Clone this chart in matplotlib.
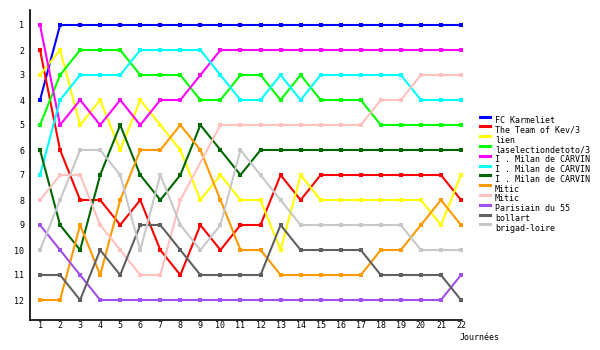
import matplotlib
matplotlib.use("Agg")
import matplotlib.pyplot as plt
from matplotlib.lines import Line2D

days = list(range(1, 23))
teams = ["FC Karmeliet", "The Team of Kev/3", "lien", "laselectiondetoto/3",
         "I . Milan de CARVIN", "I . Milan de CARVIN", "I . Milan de CARVIN",
         "Mitic", "Mitic", "Parisiain du 55", "bollart", "brigad-loire"]
colors = ["#0000ff", "#ff0000", "#ffff00", "#00ff00", "#ff00ff", "#00ffff",
          "#006600", "#ff9900", "#ffc0c0", "#a050f0", "#606060", "#c8c8c8"]

karmeliet = [4, 1, 1, 1, 1, 1, 1, 1, 1, 1, 1, 1, 1, 1, 1, 1, 1, 1, 1, 1, 1, 1]
kev = [2, 6, 8, 8, 9, 8, 10, 11, 9, 10, 9, 9, 7, 8, 7, 7, 7, 7, 7, 7, 7, 8]
lien = [3, 2, 5, 4, 6, 4, 5, 6, 8, 7, 8, 8, 10, 7, 8, 8, 8, 8, 8, 8, 9, 7]
toto = [5, 3, 2, 2, 2, 3, 3, 3, 4, 4, 3, 3, 4, 3, 4, 4, 4, 5, 5, 5, 5, 5]
milan1 = [1, 5, 4, 5, 4, 5, 4, 4, 3, 2, 2, 2, 2, 2, 2, 2, 2, 2, 2, 2, 2, 2]
milan2 = [7, 4, 3, 3, 3, 2, 2, 2, 2, 3, 4, 4, 3, 4, 3, 3, 3, 3, 3, 4, 4, 4]
milan3 = [6, 9, 10, 7, 5, 7, 8, 7, 5, 6, 7, 6, 6, 6, 6, 6, 6, 6, 6, 6, 6, 6]
mitic1 = [12, 12, 9, 11, 8, 6, 6, 5, 6, 8, 10, 10, 11, 11, 11, 11, 11, 10, 10, 9, 8, 9]
mitic2 = [8, 7, 7, 9, 10, 11, 11, 8, None, 5, 5, 5, 5, 5, 5, 5, 5, 4, 4, 3, 3, 3]
parisiain = [9, 10, 11, 12, 12, 12, 12, 12, 12, 12, 12, 12, 12, 12, 12, 12, 12, 12, 12, 12, 12, 11]
bollart = [11, 11, 12, 10, 11, 9, 9, 10, 11, 11, 11, 11, 9, 10, 10, 10, 10, 11, 11, 11, 11, 12]
brigad = [10, 8, 6, 6, 7, 10, 7, 9, 10, 9, 6, 7, 8, 9, 9, 9, 9, 9, 9, 10, 10, 10]

series = [karmeliet, kev, lien, toto, milan1, milan2, milan3,
          mitic1, mitic2, parisiain, bollart, brigad]
ranks = list(range(1, 13))

FONT = "DejaVu Sans Mono"
FS = 6

fig = plt.figure(figsize=(6, 3.5), dpi=100)
ax = fig.add_axes([30 / 600, 1 - 320 / 350, 432 / 600, 310 / 350])

for vals, col in zip(series, colors):
    xs = [d for d, v in zip(days, vals) if v is not None]
    ys = [v for v in vals if v is not None]
    ax.plot(xs, ys, color=col, lw=1.5, marker="s", ms=2.8, mew=0,
            solid_joinstyle="miter")

ax.set_xlim(0.5, 22.05)
ax.set_ylim(12.8, 0.4)
ax.set_xticks(days)
ax.set_xticklabels([str(d) for d in days], fontfamily=FONT, fontsize=FS)
ax.set_yticks(ranks)
ax.set_yticklabels([str(r) for r in ranks], fontfamily=FONT, fontsize=FS)
ax.tick_params(axis="x", length=0, pad=1)
ax.tick_params(axis="y", length=0, pad=4)
for s in ["top", "right"]:
    ax.spines[s].set_visible(False)
for s in ["left", "bottom"]:
    ax.spines[s].set_linewidth(1.2)

fig.text(460 / 600, 1 - 337 / 350, "Journées", fontfamily=FONT, fontsize=FS,
         ha="left", va="center")

# legend
y0 = 120.5
dy = 9.8
for i, (name, col) in enumerate(zip(teams, colors)):
    yc = y0 + i * dy
    yl = 1 - (yc - 4) / 350
    fig.add_artist(Line2D([480 / 600, 490 / 600], [yl, yl], color=col, lw=2.2,
                          transform=fig.transFigure))
    fig.text(495 / 600, 1 - yc / 350, name, fontfamily=FONT, fontsize=FS,
             ha="left", va="center")

fig.savefig("out.png", dpi=100)
